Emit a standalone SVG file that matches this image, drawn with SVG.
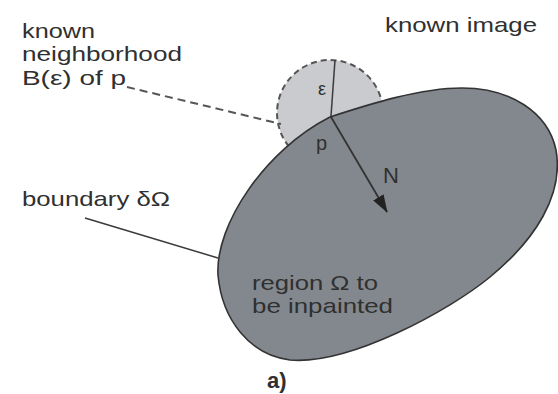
<svg xmlns="http://www.w3.org/2000/svg" width="558" height="394" viewBox="0 0 558 394">
  <defs>
    <style>
      text { font-family: "Liberation Sans", Arial, sans-serif; fill: #303030; }
      .lbl { font-size: 21px; }
      .lead { fill: none; stroke: #555; stroke-width: 2; stroke-dasharray: 8 5; }
      .line { fill: none; stroke: #3a3a3a; stroke-width: 1.5; }
    </style>
    <marker id="head" viewBox="0 0 18 12" refX="17" refY="6" markerWidth="18" markerHeight="12" markerUnits="userSpaceOnUse" orient="auto">
      <path d="M0,0 L18,6 L0,12 Z" fill="#222"/>
    </marker>
  </defs>
  <rect width="558" height="394" fill="#ffffff"/>

  <!-- known neighbourhood disc around p -->
  <g id="neighborhood">
    <circle cx="330" cy="113" r="53" fill="#c9cbce" stroke="#555" stroke-width="2" stroke-dasharray="6 4"/>
  </g>

  <!-- region to be inpainted -->
  <g id="region">
    <path d="M330,117 C370,104 420,88 462,88 C510,88 548,112 556,150 C564,195 535,240 490,277 C450,310 350,365 290,360 C250,355 222,320 218,275 C215,225 265,150 330,117 Z" fill="#83888e" stroke="#333" stroke-width="1.6"/>
    <text class="lbl" x="252" y="290" textLength="126" lengthAdjust="spacingAndGlyphs">region Ω to</text>
    <text class="lbl" x="252" y="313" textLength="141" lengthAdjust="spacingAndGlyphs">be inpainted</text>
  </g>

  <g id="connectors">
    <line class="lead" x1="127" y1="87" x2="281" y2="124"/>
    <line class="line" x1="85" y1="218" x2="218" y2="258"/>
    <line class="line" x1="331" y1="116" x2="335" y2="60" stroke="#333"/>
    <line x1="331" y1="117" x2="387" y2="212" stroke="#333" stroke-width="1.8" marker-end="url(#head)"/>
  </g>

  <g id="labels">
    <text class="lbl" x="22" y="38" textLength="73" lengthAdjust="spacingAndGlyphs">known</text>
    <text class="lbl" x="22" y="61" textLength="160" lengthAdjust="spacingAndGlyphs">neighborhood</text>
    <text class="lbl" x="22" y="85" textLength="104" lengthAdjust="spacingAndGlyphs">B(ε) of p</text>
    <text class="lbl" x="385" y="32" textLength="152" lengthAdjust="spacingAndGlyphs">known image</text>
    <text class="lbl" x="22" y="206" textLength="148" lengthAdjust="spacingAndGlyphs">boundary δΩ</text>
    <text style="font-size:18px" x="318" y="95">ε</text>
    <text style="font-size:20px" x="316" y="150">p</text>
    <text style="font-size:22px" x="383" y="183">N</text>
    <text style="font-size:22px;font-weight:bold" x="267" y="388">a)</text>
  </g>
</svg>
